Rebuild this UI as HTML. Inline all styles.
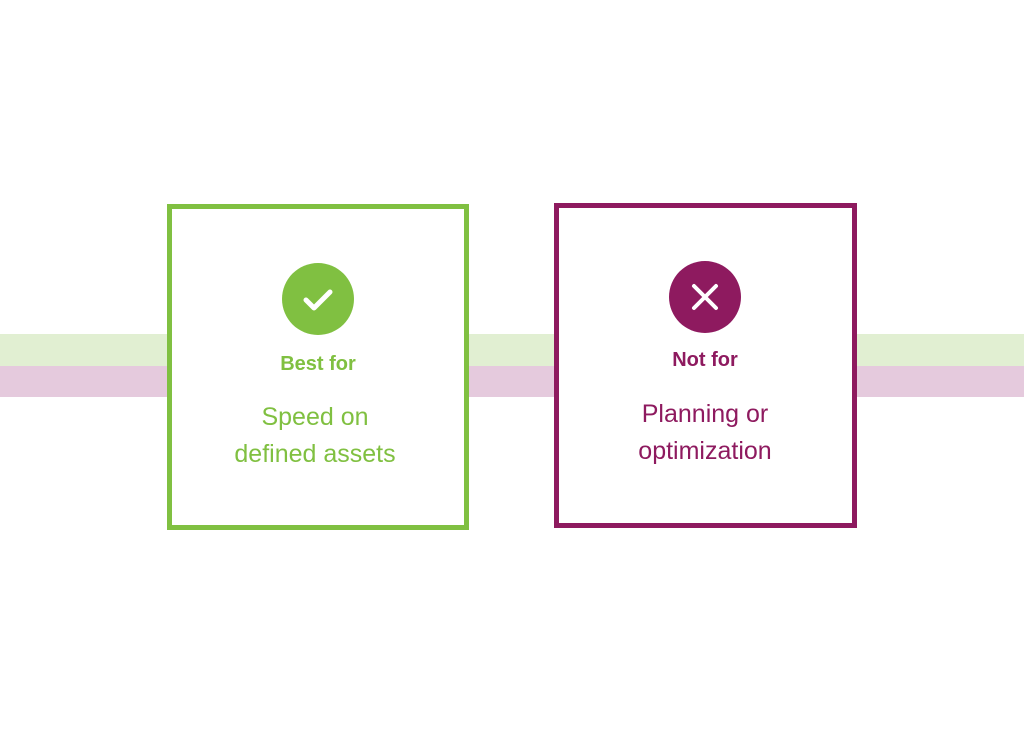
<!DOCTYPE html>
<html><head><style>
body{margin:0;width:1024px;height:731px;background:#fff;position:relative;overflow:hidden;font-family:"Liberation Sans",sans-serif}
.b{position:absolute;left:0;width:1024px}
.box{position:absolute;box-sizing:border-box;border:5px solid;background:#fff}
.c{position:absolute;border-radius:50%}
.t{position:absolute;width:300px;text-align:center;white-space:nowrap}
</style></head><body>
<div class="b" style="top:334px;height:32px;background:#e1efd2"></div>
<div class="b" style="top:366px;height:31px;background:#e5cadd"></div>

<div class="box" style="left:167px;top:204px;width:302px;height:326px;border-color:#80c041"></div>
<div class="c" style="left:282px;top:263px;width:72px;height:72px;background:#80c041"></div>
<svg style="position:absolute;left:282px;top:263px" width="72" height="72"><path d="M24 37 L32 45 L48 29" stroke="#fff" stroke-width="5" fill="none" stroke-linecap="round" stroke-linejoin="round"/></svg>
<div class="t" style="left:168px;top:353px;font-size:20px;font-weight:bold;color:#80c041">Best for</div>
<div class="t" style="left:165px;top:399px;font-size:25px;line-height:37px;color:#80c041">Speed on<br>defined assets</div>

<div class="box" style="left:554px;top:203px;width:303px;height:325px;border-color:#8e1a5f"></div>
<div class="c" style="left:669px;top:261px;width:72px;height:72px;background:#8e1a5f"></div>
<svg style="position:absolute;left:669px;top:261px" width="72" height="72"><path d="M25 25 L47 47 M47 25 L25 47" stroke="#fff" stroke-width="4" stroke-linecap="round"/></svg>
<div class="t" style="left:555px;top:349px;font-size:20px;font-weight:bold;color:#8e1a5f">Not for</div>
<div class="t" style="left:555px;top:396px;font-size:25px;line-height:37px;color:#8e1a5f">Planning or<br>optimization</div>
</body></html>
